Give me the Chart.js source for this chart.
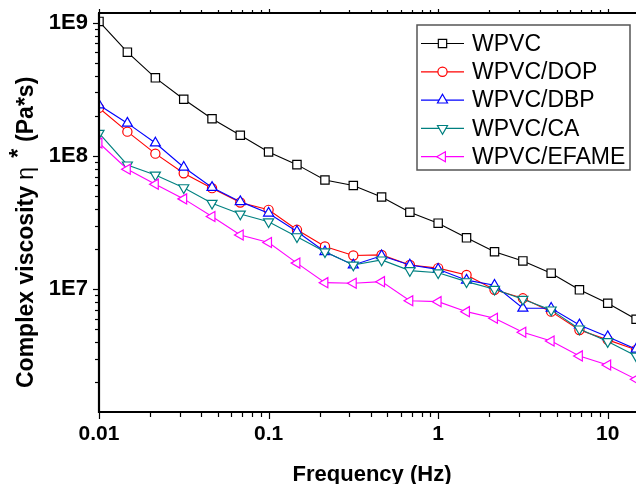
<!DOCTYPE html>
<html>
<head>
<meta charset="utf-8">
<script src="https://cdn.jsdelivr.net/npm/chart.js@4.4.1/dist/chart.umd.min.js"></script>
<style>
  html, body { margin: 0; padding: 0; background: #fff; }
  #wrap { width: 636px; height: 484px; position: relative; }
</style>
</head>
<body>
<div id="wrap"><canvas id="viscChart" width="636" height="484"></canvas></div>
<script>
// frequences de mesure (Hz)
const freqs = [0.01, 0.0147, 0.0215, 0.0316, 0.0464, 0.0681, 0.1, 0.147, 0.215, 0.316,
               0.464, 0.681, 1, 1.47, 2.15, 3.16, 4.64, 6.81, 10, 14.7];

// viscosite complexe (Pa*s)
const wpvc  = [1.02e9, 6.0e8, 3.85e8, 2.66e8, 1.90e8, 1.43e8, 1.07e8, 8.6e7, 6.6e7, 6.0e7,
               4.92e7, 3.78e7, 3.13e7, 2.43e7, 1.91e7, 1.63e7, 1.32e7, 9.9e6, 7.85e6, 5.96e6];
const dop   = [2.29e8, 1.52e8, 1.04e8, 7.41e7, 5.73e7, 4.47e7, 3.94e7, 2.79e7, 2.09e7, 1.79e7,
               1.81e7, 1.52e7, 1.44e7, 1.28e7, 9.9e6, 8.55e6, 6.79e6, 4.95e6, 4.17e6, 3.51e6];
const dbp   = [2.41e8, 1.76e8, 1.25e8, 8.22e7, 5.8e7, 4.54e7, 3.72e7, 2.71e7, 1.91e7, 1.52e7,
               1.78e7, 1.52e7, 1.41e7, 1.17e7, 1.07e7, 7.2e6, 7.2e6, 5.4e6, 4.41e6, 3.55e6];
const ca    = [1.48e8, 8.56e7, 7.2e7, 5.78e7, 4.42e7, 3.67e7, 3.21e7, 2.48e7, 1.91e7, 1.52e7,
               1.66e7, 1.38e7, 1.33e7, 1.14e7, 1.0e7, 8.41e6, 7.0e6, 5.04e6, 4.05e6, 3.16e6];
const efame = [1.25e8, 7.94e7, 6.14e7, 4.76e7, 3.51e7, 2.55e7, 2.24e7, 1.57e7, 1.12e7, 1.11e7,
               1.14e7, 8.2e6, 8.07e6, 6.79e6, 6.06e6, 4.76e6, 4.09e6, 3.16e6, 2.70e6, 2.11e6];

const seriesNames = ['WPVC', 'WPVC/DOP', 'WPVC/DBP', 'WPVC/CA', 'WPVC/EFAME'];

// graduations
const xMajor = [0.01, 0.1, 1, 10];
const xTickLabels = ['0.01', '0.1', '1', '10'];
const yMajor = [1e7, 1e8, 1e9];
const yTickLabels = ['1E7', '1E8', '1E9'];

const FONT = "'Liberation Sans', Arial, sans-serif";

function toPoints(arr) {
    return freqs.map((f, i) => ({ x: f, y: arr[i] }));
}

function findLabel(v, majors, labels) {
    const i = majors.findIndex(m => Math.abs(v - m) / m < 1e-6);
    return i >= 0 ? labels[i] : '';
}

const styles = [
    { color: '#000000', pointStyle: 'rect',     rotation: 0,   radius: 5.9 },
    { color: '#ff0000', pointStyle: 'circle',   rotation: 0,   radius: 4.6 },
    { color: '#0000ff', pointStyle: 'triangle', rotation: 0,   radius: 5.8 },
    { color: '#008080', pointStyle: 'triangle', rotation: 180, radius: 5.8 },
    { color: '#ff00ff', pointStyle: 'triangle', rotation: 270, radius: 5.8 }
];

const allSeries = [wpvc, dop, dbp, ca, efame];

// pas de marge automatique autour des axes
function noPadding(s) {
    s.paddingTop = 0; s.paddingBottom = 0;
    s.paddingLeft = 0; s.paddingRight = 0;
}

/**
 * Axes (traits + graduations majeures/mineures) facon Origin
 */
const axesPlugin = {
    id: 'axesPlugin',
    afterDatasetsDraw(chart) {
        const { ctx, chartArea: a, scales } = chart;
        const xs = scales.x, ys = scales.y;
        ctx.save();
        ctx.strokeStyle = '#000';

        // ticks x (bas et haut)
        ctx.lineWidth = 1.2;
        for (let e = -2; e <= 1; e++) {
            for (let m = 1; m <= 9; m++) {
                const v = m * Math.pow(10, e);
                if (v < xs.min * 0.999 || v > xs.max) continue;
                const px = Math.round(xs.getPixelForValue(v)) + 0.5;
                const len = (m === 1) ? 7 : 5;
                ctx.beginPath();
                ctx.moveTo(px, a.bottom); ctx.lineTo(px, a.bottom + len);
                ctx.moveTo(px, a.top); ctx.lineTo(px, a.top - (m === 1 ? 4 : 3));
                ctx.stroke();
            }
        }
        // ticks y (gauche)
        for (let e = 6; e <= 9; e++) {
            for (let m = 1; m <= 9; m++) {
                const v = m * Math.pow(10, e);
                if (v < ys.min || v > ys.max) continue;
                const py = Math.round(ys.getPixelForValue(v)) + 0.5;
                const len = (m === 1) ? 6 : 4;
                ctx.beginPath();
                ctx.moveTo(a.left, py); ctx.lineTo(a.left - len, py);
                ctx.stroke();
            }
        }

        // traits des axes
        ctx.lineWidth = 2.2;
        ctx.beginPath();
        ctx.moveTo(a.left, a.top); ctx.lineTo(a.left, a.bottom + 1);
        ctx.moveTo(a.left - 1, a.bottom); ctx.lineTo(a.right, a.bottom);
        ctx.moveTo(a.left - 1, a.top); ctx.lineTo(a.right, a.top);
        ctx.stroke();
        ctx.restore();
    },
    afterDraw(chart) {
        const { ctx } = chart;
        ctx.save();

        // titre axe x
        ctx.fillStyle = '#000';
        ctx.font = 'bold 22px ' + FONT;
        ctx.textAlign = 'center';
        ctx.textBaseline = 'alphabetic';
        ctx.fillText('Frequency (Hz)', 372, 481);

        // titre axe y (avec exposant *)
        const fBold = 'bold 23px ' + FONT;
        const fEta = '23px ' + FONT;
        const p1 = 'Complex viscosity ', p2 = '\u03B7', p3 = '*', p4 = '(Pa*s)';
        ctx.font = fBold; const w1 = ctx.measureText(p1).width;
        ctx.font = fEta;  const w2 = ctx.measureText(p2).width;
        ctx.font = fBold; const w3 = ctx.measureText(p3).width;
        const gapA = 9, gapB = 7;
        ctx.translate(33, 388);
        ctx.rotate(-Math.PI / 2);
        ctx.textAlign = 'left';
        ctx.font = fBold; ctx.fillText(p1, 0, 0);
        ctx.font = fEta;  ctx.fillText(p2, w1, 0);
        ctx.font = fBold; ctx.fillText(p3, w1 + w2 + gapA, -7);
        ctx.fillText(p4, w1 + w2 + gapA + w3 + gapB, 0);
        ctx.restore();

        // legende encadree
        ctx.save();
        const lx = 417, ly = 25, lw = 213, lh = 145;
        ctx.fillStyle = '#fff';
        ctx.fillRect(lx, ly, lw, lh);
        ctx.strokeStyle = '#555';
        ctx.lineWidth = 1.5;
        ctx.strokeRect(lx, ly, lw, lh);
        ctx.font = '23px ' + FONT;
        ctx.textBaseline = 'middle';
        ctx.textAlign = 'left';
        seriesNames.forEach((name, i) => {
            const y = 43.5 + i * 28.3;
            const st = styles[i];
            ctx.strokeStyle = st.color;
            ctx.lineWidth = 1.2;
            ctx.beginPath();
            ctx.moveTo(421, y); ctx.lineTo(464, y);
            ctx.stroke();
            ctx.fillStyle = '#fff';
            Chart.helpers.drawPoint(ctx, {
                pointStyle: st.pointStyle, rotation: st.rotation,
                radius: st.radius, borderWidth: 1.2
            }, 442.5, y);
            ctx.fillStyle = '#000';
            ctx.fillText(name, 472, y + 1);
        });
        ctx.restore();
    }
};

const ctx = document.getElementById('viscChart').getContext('2d');

const viscChart = new Chart(ctx, {
    type: 'line',
    data: {
        datasets: allSeries.map((arr, i) => ({
            label: seriesNames[i],
            data: toPoints(arr),
            borderColor: styles[i].color,
            backgroundColor: '#ffffff',
            pointBackgroundColor: '#ffffff',
            pointBorderColor: styles[i].color,
            pointStyle: styles[i].pointStyle,
            pointRotation: styles[i].rotation,
            pointRadius: styles[i].radius,
            pointBorderWidth: 1.2,
            borderWidth: 1.1,
            tension: 0,
            fill: false,
            order: 5 - i
        }))
    },
    options: {
        responsive: false,
        devicePixelRatio: 1,
        animation: false,
        layout: { autoPadding: false, padding: { top: 13, left: 0, right: 0, bottom: 0 } },
        plugins: {
            legend: { display: false },
            tooltip: { enabled: false }
        },
        scales: {
            x: {
                type: 'logarithmic',
                min: 0.01,
                max: 14.68,
                afterFit: s => { s.height = 72; noPadding(s); },
                grid: { display: false, drawTicks: false },
                border: { display: false },
                ticks: {
                    autoSkip: false,
                    maxRotation: 0,
                    padding: 10,
                    color: '#000',
                    font: { family: FONT, weight: 'bold', size: 21 },
                    callback: v => findLabel(v, xMajor, xTickLabels)
                }
            },
            y: {
                type: 'logarithmic',
                min: 1.2e6,
                max: 1.18e9,
                afterFit: s => { s.width = 99; noPadding(s); },
                grid: { display: false, drawTicks: false },
                border: { display: false },
                ticks: {
                    autoSkip: false,
                    padding: 11,
                    color: '#000',
                    font: { family: FONT, weight: 'bold', size: 22 },
                    callback: v => findLabel(v, yMajor, yTickLabels)
                }
            }
        }
    },
    plugins: [axesPlugin]
});
</script>
</body>
</html>
